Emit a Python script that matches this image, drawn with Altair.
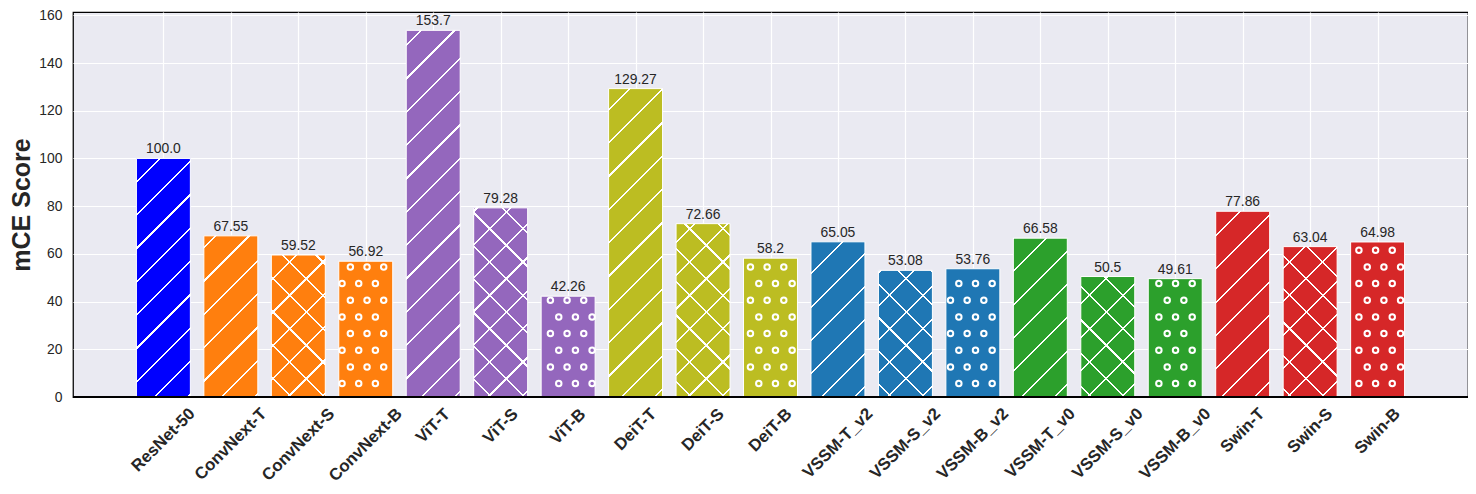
import altair as alt
import pandas as pd

# ---------------- data ----------------
models = ["ResNet-50", "ConvNext-T", "ConvNext-S", "ConvNext-B", "ViT-T", "ViT-S", "ViT-B",
          "DeiT-T", "DeiT-S", "DeiT-B", "VSSM-T_v2", "VSSM-S_v2", "VSSM-B_v2",
          "VSSM-T_v0", "VSSM-S_v0", "VSSM-B_v0", "Swin-T", "Swin-S", "Swin-B"]
scores = [100.0, 67.55, 59.52, 56.92, 153.7, 79.28, 42.26, 129.27, 72.66, 58.2,
          65.05, 53.08, 53.76, 66.58, 50.5, 49.61, 77.86, 63.04, 64.98]
score_labels = ["100.0", "67.55", "59.52", "56.92", "153.7", "79.28", "42.26", "129.27", "72.66", "58.2",
                "65.05", "53.08", "53.76", "66.58", "50.5", "49.61", "77.86", "63.04", "64.98"]
bar_colors = ["#0000ff",
              "#ff7f0e", "#ff7f0e", "#ff7f0e",
              "#9467bd", "#9467bd", "#9467bd",
              "#bcbd22", "#bcbd22", "#bcbd22",
              "#1f77b4", "#1f77b4", "#1f77b4",
              "#2ca02c", "#2ca02c", "#2ca02c",
              "#d62728", "#d62728", "#d62728"]
hatches = ["/", "/", "x", "o", "/", "x", "o", "/", "x", "o",
           "/", "x", "o", "/", "x", "o", "/", "x", "o"]
y_ticks = [0, 20, 40, 60, 80, 100, 120, 140, 160]

df = pd.DataFrame({"model": models, "idx": list(range(len(models))),
                   "score": scores, "lab": score_labels})

# ---------------- layout / style ----------------
W, H = 1395, 385
X_DOM = [-1.34, 19.34]
Y_DOM = [0, 161.385]
PX_X = W / (X_DOM[1] - X_DOM[0])
PX_Y = H / (Y_DOM[1] - Y_DOM[0])
FONT = "Liberation Sans, Arial, Helvetica, sans-serif"
TXT = "#262626"
HATCH_P = 33.33      # hatch period (px)
HATCH_HW = 1.1       # half line width in (px+py) units
DOT_P = 16.67
XLAB_FS = 16.7

# Arial/Liberation Sans Bold advance widths (per 1000 em) for label layout
BOLD_W = {'R': 722, 'e': 556, 's': 556, 'N': 722, 't': 333, '-': 333, '5': 556, '0': 556,
          'C': 722, 'o': 611, 'n': 611, 'v': 556, 'x': 556, 'T': 611, 'S': 667, 'B': 722,
          'V': 667, 'i': 278, 'D': 722, 'I': 278, 'M': 833, '_': 556, '2': 556, 'w': 778}

X_SCALE = alt.Scale(domain=X_DOM, nice=False, zero=False)
Y_SCALE = alt.Scale(domain=Y_DOM, nice=False)
X_AXIS = alt.Axis(values=list(range(len(models))), labels=False, ticks=False, domain=False,
                  grid=True, gridColor="white", gridWidth=1.2, title=None)
Y_AXIS = alt.Axis(values=y_ticks, ticks=False, domain=False, grid=True, gridColor="white",
                  gridWidth=1.2, labelFont=FONT, labelFontSize=13.9, labelColor=TXT,
                  labelPadding=11, title="mCE Score", titleFont=FONT, titleFontSize=25,
                  titleFontWeight="bold", titleColor=TXT, titlePadding=4)


def stripe_gradient(base, start, total, x1, y1, x2, y2):
    stops = [{"offset": 0, "color": base}]
    s = start - HATCH_P
    while s < total + HATCH_P:
        a = (s - HATCH_HW) / total
        b = (s + HATCH_HW) / total
        s += HATCH_P
        if b <= 0 or a >= 1:
            continue
        a = round(max(0.0, a), 5)
        b = round(min(1.0, b), 5)
        stops += [{"offset": a, "color": base}, {"offset": a, "color": "white"},
                  {"offset": b, "color": "white"}, {"offset": b, "color": base}]
    stops.append({"offset": 1, "color": base})
    return alt.LinearGradient(gradient="linear", x1=x1, y1=y1, x2=x2, y2=y2, stops=stops)


def enc_bar(ch):
    return ch.transform_calculate(lo="datum.idx - 0.4", hi="datum.idx + 0.4").encode(
        x=alt.X("lo:Q", scale=X_SCALE, axis=X_AXIS),
        x2="hi:Q",
        y=alt.Y("score:Q", scale=Y_SCALE, axis=Y_AXIS),
        y2=alt.datum(0),
    )


layers = []
dots = {"xd": [], "yd": []}
for i, (m, v, c, hch) in enumerate(zip(models, scores, bar_colors, hatches)):
    xl = (i - 0.4 - X_DOM[0]) * PX_X
    w = 0.8 * PX_X
    h = v * PX_Y
    yt = H - h
    k = (w + h) / (w * w + h * h)
    base = alt.Chart().transform_filter(alt.datum.model == m)
    if hch in ("/", "x"):
        g1 = stripe_gradient(c, (-(xl + yt)) % HATCH_P, w + h, 0, 0, k * w, k * h)
        layers.append(enc_bar(base.mark_bar(fill=g1, stroke="white", strokeWidth=1)))
        if hch == "x":
            g2 = stripe_gradient("rgba(255,255,255,0)", (h + yt - xl) % HATCH_P, w + h,
                                 0, 1, k * w, 1 - k * h)
            layers.append(enc_bar(base.mark_bar(fill=g2, strokeWidth=0)))
    else:
        layers.append(enc_bar(base.mark_bar(fill=c, stroke="white", strokeWidth=1)))
        for r in range(40):
            ypx = 13.4 + r * DOT_P
            if ypx + 3.5 > h:
                break
            phase = 10.65 if r % 2 else 2.32
            xpx = phase
            while xpx < xl + w:
                if xl + 3.0 <= xpx <= xl + w - 3.0:
                    dots["xd"].append(X_DOM[0] + xpx / PX_X)
                    dots["yd"].append(ypx / PX_Y)
                xpx += DOT_P

dots_df = pd.DataFrame(dots)
layers.append(
    alt.Chart(dots_df).mark_point(shape="circle", filled=False, color="white", strokeWidth=2,
                                  size=30, opacity=1).encode(
        x=alt.X("xd:Q", scale=X_SCALE, axis=X_AXIS),
        y=alt.Y("yd:Q", scale=Y_SCALE, axis=Y_AXIS))
)

# bottom frame line drawn above the bars
layers.append(alt.Chart().mark_rule(color="black", strokeWidth=1.25).encode(
    y=alt.Y(datum=0, scale=Y_SCALE, axis=Y_AXIS)))

# value labels
layers.append(
    alt.Chart().mark_text(font=FONT, fontSize=13.9, color=TXT, baseline="alphabetic", dy=-5).encode(
        x=alt.X("idx:Q", scale=X_SCALE, axis=X_AXIS),
        y=alt.Y("score:Q", scale=Y_SCALE, axis=Y_AXIS),
        text="lab:N")
)

# rotated category labels
for i, m in enumerate(models):
    L = sum(BOLD_W.get(ch, 600) for ch in m) * XLAB_FS / 1000.0
    cy = H + 10 + (L + 0.716 * XLAB_FS) * 0.3536
    layers.append(
        alt.Chart().transform_filter(alt.datum.model == m).mark_text(
            font=FONT, fontSize=XLAB_FS, fontWeight="bold", color=TXT, angle=315,
            align="center", baseline="middle").encode(
            x=alt.X("idx:Q", scale=X_SCALE, axis=X_AXIS),
            y=alt.value(cy),
            text="model:N")
    )

chart = alt.layer(*layers, data=df).properties(
    width=W, height=H,
    padding={"left": 65, "top": 4, "right": 0, "bottom": 92},
    autosize=alt.AutoSizeParams(type="none"),
).configure(background="white").configure_view(
    fill="#eaeaf2", stroke="black", strokeWidth=1.25)

chart.save("out.html", embed_options={"renderer": "svg", "actions": False})
